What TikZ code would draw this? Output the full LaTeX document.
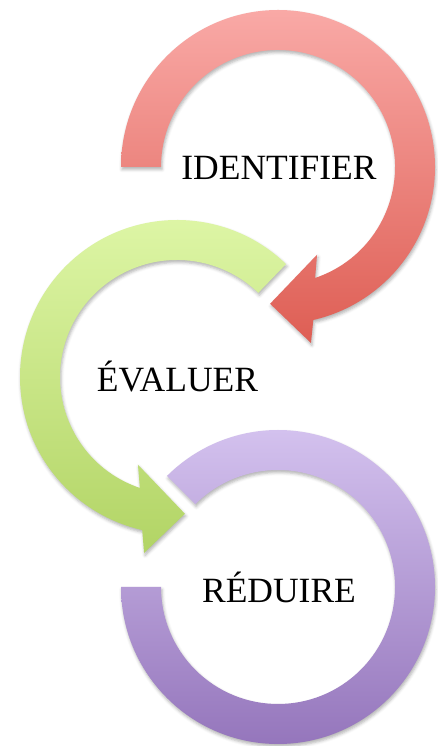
\documentclass[tikz,border=0pt]{standalone}
\usepackage{fontspec}
\setmainfont{Liberation Serif}
\usepackage{xcolor}
\usepackage{tikz}
\usetikzlibrary{shadows.blur}

\definecolor{redtop}{HTML}{F9A9A6}
\definecolor{redbot}{HTML}{DE5E54}
\definecolor{greentop}{HTML}{DFF7A8}
\definecolor{greenbot}{HTML}{B2D465}
\definecolor{purpletop}{HTML}{D3C1EE}
\definecolor{purplebot}{HTML}{9576BC}

\begin{document}
\begin{tikzpicture}[
  x=1pt, y=1pt,
  arcband/.style={blur shadow={shadow xshift=1pt, shadow yshift=-2.5pt,
                  shadow blur radius=3pt, shadow opacity=30}},
  steplabel/.style={font=\fontsize{35.5}{42}\selectfont, text=black,
                    inner sep=0pt, anchor=base},
]
\useasboundingbox (0,0) rectangle (438,746);

% centres of the three rings
\coordinate (redc) at (278,579);
\coordinate (greenc) at (177,369);
\coordinate (purplec) at (278,159);

% IDENTIFIER ring, clockwise with head at the bottom
\begin{scope}[shift={(redc)}]
\shade[arcband, top color=redtop, bottom color=redbot]
  (180:157pt) arc[start angle=180, end angle=-77, radius=157pt]
  -- (-79.4:179pt) -- (-93.3:137pt) -- (-66:96pt) -- (-71.5:117pt)
  arc[start angle=-71.5, end angle=180, radius=117pt] -- cycle;
\end{scope}

% EVALUER ring, anticlockwise with head at the bottom
\begin{scope}[shift={(greenc)}]
\shade[arcband, top color=greentop, bottom color=greenbot]
  (46:157pt) arc[start angle=46, end angle=257.2, radius=157pt]
  -- (259.4:179pt) -- (273.3:137pt) -- (246:96pt) -- (251.5:117pt)
  arc[start angle=251.5, end angle=46, radius=117pt] -- cycle;
\end{scope}

% REDUIRE ring, no head
\begin{scope}[shift={(purplec)}]
\shade[arcband, top color=purpletop, bottom color=purplebot]
  (180:157pt) arc[start angle=180, end angle=495, radius=157pt]
  -- (135:117pt) arc[start angle=135, end angle=-180, radius=117pt] -- cycle;
\end{scope}

% labels
\node[steplabel] (identifier) at ([xshift=1pt, yshift=-13pt]redc) {IDENTIFIER};
\node[steplabel] (evaluer) at ([xshift=0.5pt, yshift=-15pt]greenc) {ÉVALUER};
\node[steplabel] (reduire) at ([xshift=1pt, yshift=-16pt]purplec) {RÉDUIRE};

\end{tikzpicture}
\end{document}
